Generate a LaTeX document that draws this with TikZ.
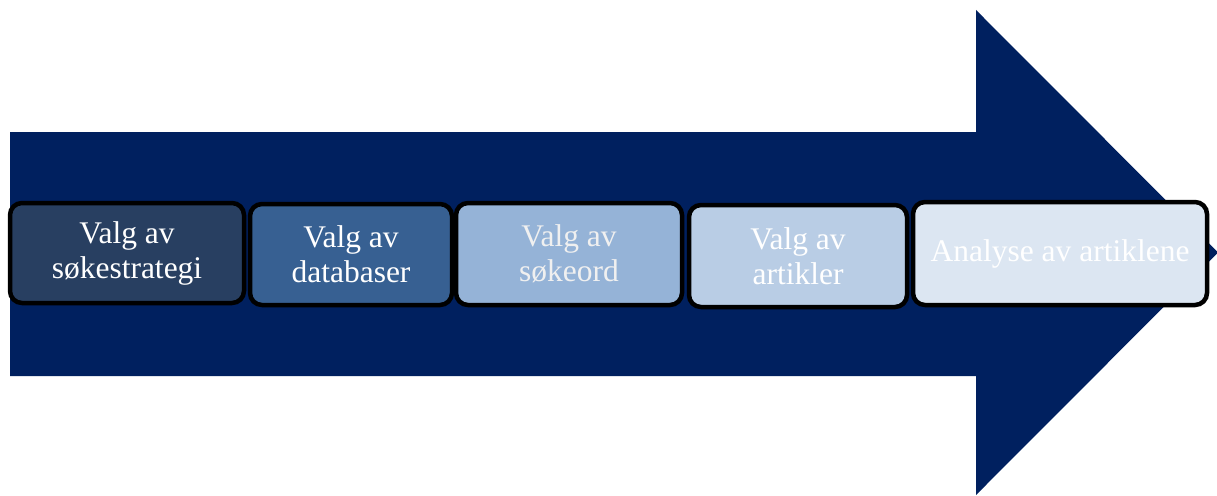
\documentclass[tikz,border=0pt]{standalone}
\usepackage{fontspec}
\setmainfont{Liberation Serif}
\definecolor{navy}{HTML}{00205F}
\definecolor{stepA}{HTML}{283F61}
\definecolor{stepB}{HTML}{376092}
\definecolor{stepC}{HTML}{95B3D7}
\definecolor{stepD}{HTML}{B9CDE5}
\definecolor{stepE}{HTML}{DCE6F2}
\tikzset{
  stepbox/.style={draw=black, line width=4.5pt, rounded corners=12pt,
    rectangle, inner sep=0pt, align=center, text=white,
    font=\fontsize{31.5}{35}\selectfont},
}
\begin{document}
\begin{tikzpicture}[x=1pt,y=-1pt]
  \useasboundingbox (0,0) rectangle (1217,495);
  % big process arrow
  \fill[navy] (10,132) -- (976,132) -- (976,10) -- (1218,252.5)
    -- (976,495) -- (976,376) -- (10,376) -- cycle;
  % process steps
  \node[stepbox, fill=stepA, minimum width=234pt, minimum height=100pt]
    (b1) at (127,253) {Valg av\\søkestrategi};
  \node[stepbox, fill=stepB, minimum width=202pt, minimum height=101pt]
    (b2) at (351,254.5) {Valg av\\databaser};
  \node[stepbox, fill=stepC, minimum width=226pt, minimum height=102pt,
    text=white!94!black]
    (b3) at (569,254) {Valg av\\søkeord};
  \node[stepbox, fill=stepD, minimum width=218pt, minimum height=102pt]
    (b4) at (798,256) {Valg av\\artikler};
  \node[stepbox, fill=stepE, minimum width=294pt, minimum height=103pt]
    (b5) at (1060,253.5) {Analyse av artiklene};
\end{tikzpicture}
\end{document}
